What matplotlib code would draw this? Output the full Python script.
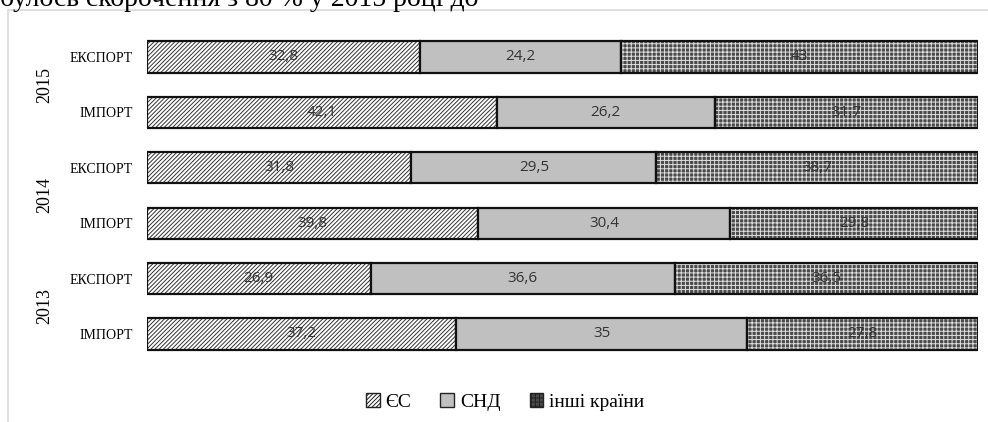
import numpy as np
import matplotlib.pyplot as plt
from matplotlib.patches import Rectangle, Patch

plt.rcParams['hatch.linewidth'] = 0.7

# дані (%), рядки згори донизу
rows = ['ЕКСПОРТ', 'ІМПОРТ', 'ЕКСПОРТ', 'ІМПОРТ', 'ЕКСПОРТ', 'ІМПОРТ']
years = ['2015', '2014', '2013']
eu = [32.8, 42.1, 31.8, 39.8, 26.9, 37.2]
cis = [24.2, 26.2, 29.5, 30.4, 36.6, 35]
other = [43, 31.7, 38.7, 29.8, 36.5, 27.8]
eu_lbl = ['32,8', '42,1', '31,8', '39,8', '26,9', '37,2']
cis_lbl = ['24,2', '26,2', '29,5', '30,4', '36,6', '35']
other_lbl = ['43', '31,7', '38,7', '29,8', '36,5', '27,8']
series = ['ЄС', 'СНД', 'інші країни']

fig = plt.figure(figsize=(9.88, 4.22), dpi=100)
ax = fig.add_axes([147 / 988, 1 - 361.7 / 422, 831 / 988, 332.4 / 422])

# рамка області діаграми
fig.patches.append(Rectangle((8 / 988, -0.01), 1.0, 1 - 10 / 422 + 0.01,
                             transform=fig.transFigure, fill=False,
                             edgecolor='#d9d9d9', linewidth=1.2))

# обрізаний рядок тексту зверху (як у джерелі)
fig.text(0, 1 - 6 / 422, 'булось скорочення з 80 % у 2015 році до',
         family='Liberation Serif', fontsize=20, va='baseline', ha='left')

y = np.arange(len(rows))
h = 0.56
left = np.zeros(len(rows))
styles = [
    dict(facecolor='white', hatch='////////', edgecolor='#333333'),
    dict(facecolor='#c0c0c0', hatch=None, edgecolor='#c0c0c0'),
    dict(facecolor='#4a4a4a', hatch='++++', edgecolor='#e0e0e0'),
]
for vals, labels, st in zip([eu, cis, other], [eu_lbl, cis_lbl, other_lbl], styles):
    vals = np.array(vals)
    ax.barh(y, vals, left=left, height=h, color=st['facecolor'],
            hatch=st['hatch'], edgecolor=st['edgecolor'], linewidth=0)
    # контур
    ax.barh(y, vals, left=left, height=h, fill=False, edgecolor='#111111', linewidth=1.6)
    for yi, l, v, t in zip(y, left, vals, labels):
        ax.text(l + v / 2, yi, t, ha='center', va='center', fontsize=11,
                family='Open Sans', color='#333333')
    left = left + vals

ax.set_xlim(0, 100)
ax.set_ylim(len(rows) - 0.5, -0.5)
ax.set_yticks(y)
ax.set_yticklabels(rows, family='Liberation Serif', fontsize=10)
ax.tick_params(axis='y', length=0, pad=10)
ax.set_xticks([])
for s in ax.spines.values():
    s.set_visible(False)

for i, yr in enumerate(years):
    ax.text(-102 / 831 * 100, 2 * i + 0.5, yr, rotation=90, ha='center', va='center',
            family='Liberation Serif', fontsize=13)

handles = [Patch(facecolor=st['facecolor'], hatch=st['hatch'], edgecolor='#222222', linewidth=1)
           for st in styles]
handles[1].set_edgecolor('#222222')
fig.legend(handles, series, loc='center', bbox_to_anchor=(505 / 988, 1 - 402 / 422),
           ncol=3, frameon=False, prop={'family': 'Liberation Serif', 'size': 14},
           handlelength=0.7, handleheight=0.7, handletextpad=0.3, columnspacing=1.5)

fig.savefig('out.png', dpi=100)
